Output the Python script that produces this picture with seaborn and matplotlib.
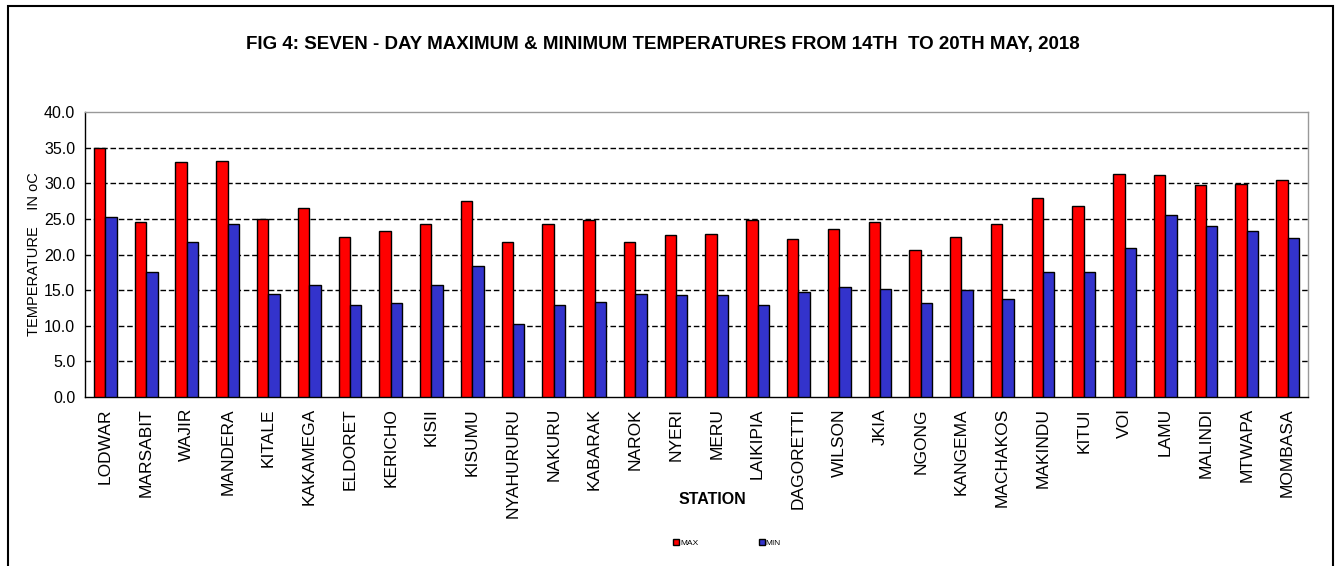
import numpy as np
import pandas as pd
import seaborn as sns
import matplotlib.pyplot as plt
from matplotlib.patches import Rectangle

stations = ["LODWAR", "MARSABIT", "WAJIR", "MANDERA", "KITALE", "KAKAMEGA",
            "ELDORET", "KERICHO", "KISII", "KISUMU", "NYAHURURU", "NAKURU",
            "KABARAK", "NAROK", "NYERI", "MERU", "LAIKIPIA", "DAGORETTI",
            "WILSON", "JKIA", "NGONG", "KANGEMA", "MACHAKOS", "MAKINDU",
            "KITUI", "VOI", "LAMU", "MALINDI", "MTWAPA", "MOMBASA"]
max_temp = [35.0, 24.5, 33.0, 33.1, 25.0, 26.5, 22.5, 23.3, 24.3, 27.5,
            21.8, 24.3, 24.8, 21.8, 22.7, 22.9, 24.8, 22.2, 23.6, 24.5,
            20.6, 22.5, 24.3, 27.9, 26.8, 31.3, 31.1, 29.8, 29.9, 30.4]
min_temp = [25.2, 17.5, 21.8, 24.3, 14.5, 15.7, 12.9, 13.2, 15.7, 18.4,
            10.2, 12.9, 13.4, 14.5, 14.3, 14.3, 12.9, 14.8, 15.4, 15.2,
            13.2, 15.0, 13.8, 17.5, 17.5, 20.9, 25.6, 24.0, 23.3, 22.3]
y_ticks = [0, 5, 10, 15, 20, 25, 30, 35, 40]

df = pd.DataFrame({
    "station": stations * 2,
    "temp": max_temp + min_temp,
    "series": ["MAX"] * len(stations) + ["MIN"] * len(stations),
})

sns.set_style("white")
plt.rcParams["font.family"] = ["Liberation Sans", "DejaVu Sans"]
for key in ["text.color", "axes.labelcolor", "xtick.color", "ytick.color"]:
    plt.rcParams[key] = "black"

fig = plt.figure(figsize=(13.44, 5.66), dpi=100)
ax = fig.add_axes([0.0632, 0.2986, 0.9100, 0.5035])

sns.barplot(data=df, x="station", y="temp", hue="series",
            palette={"MAX": "#ff0000", "MIN": "#3333cc"}, saturation=1,
            width=0.56, edgecolor="black", linewidth=1, ax=ax,
            legend=False, zorder=3)

ax.set_ylim(0, 40)
ax.set_xlim(-0.5, len(stations) - 0.5)
ax.set_yticks(y_ticks)
ax.set_yticklabels([f"{v:.1f}" for v in y_ticks], fontsize=11.5)
for v in y_ticks[1:-1]:
    ax.axhline(v, color="black", linestyle=(0, (4, 2)), linewidth=1, zorder=1)

ax.set_xticks(range(len(stations)))
ax.set_xticklabels(stations, rotation=90, fontsize=12.5)
ax.set_xticks(np.arange(-0.5, len(stations), 1), minor=True)
ax.tick_params(axis="x", which="major", length=0, pad=8)
ax.tick_params(axis="x", which="minor", length=5, direction="out", color="black")
ax.tick_params(axis="y", length=5, direction="out", color="black", pad=2)

for side in ["top", "right"]:
    ax.spines[side].set_color("#999999")
for side in ["left", "bottom"]:
    ax.spines[side].set_color("black")
for s in ax.spines.values():
    s.set_linewidth(1)

ax.set_xlabel("")
ax.set_ylabel("TEMPERATURE    IN oC", fontsize=10.5, labelpad=2)

fig.text(0.493, 0.922, "FIG 4: SEVEN - DAY MAXIMUM & MINIMUM TEMPERATURES FROM 14TH  TO 20TH MAY, 2018",
         ha="center", va="center", fontsize=13.5, fontweight="bold")
fig.text(0.530, 0.117, "STATION", ha="center", va="center", fontsize=11.5, fontweight="bold")

handles = [Rectangle((0, 0), 1, 1, facecolor="#ff0000", edgecolor="black"),
           Rectangle((0, 0), 1, 1, facecolor="#3333cc", edgecolor="black")]
fig.legend(handles, ["MAX", "MIN"], loc="center", bbox_to_anchor=(0.541, 0.040),
           ncol=2, fontsize=6, frameon=False, handlelength=0.7, handleheight=0.7,
           handletextpad=0.1, columnspacing=7.3)

fig.add_artist(Rectangle((0.006, -0.01), 0.986, 1.0, transform=fig.transFigure,
                         fill=False, edgecolor="black", linewidth=1.5))

fig.savefig("out.png", dpi=100)
